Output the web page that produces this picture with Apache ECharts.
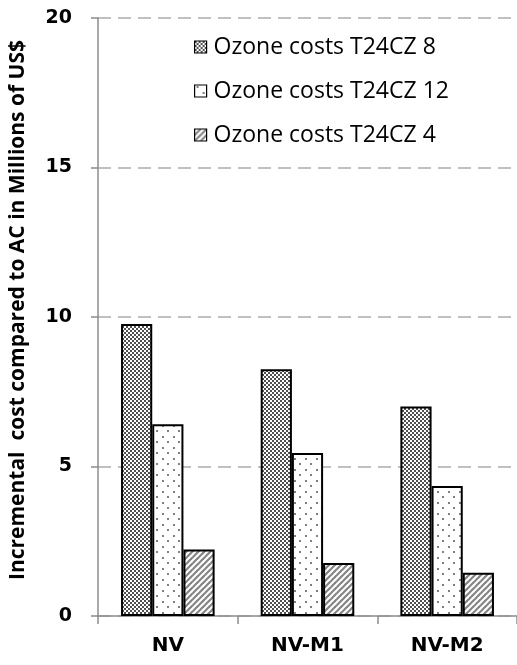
<!DOCTYPE html>
<html><head><meta charset="utf-8">
<script src="https://cdn.jsdelivr.net/npm/echarts@6/dist/echarts.min.js"></script>
<style>html,body{margin:0;padding:0;background:#fff}#c{width:517px;height:665px}</style>
</head><body><div id="c"></div>
<script>
const categories = ['NV', 'NV-M1', 'NV-M2'];
const seriesNames = ['Ozone costs T24CZ 8', 'Ozone costs T24CZ 12', 'Ozone costs T24CZ 4'];
const cz8 = [9.77, 8.25, 7.01];
const cz12 = [6.41, 5.45, 4.35];
const cz4 = [2.22, 1.77, 1.45];
const yTicks = [0, 5, 10, 15, 20];

function checker() {
  const c = document.createElement('canvas'); c.width = 4; c.height = 4;
  const g = c.getContext('2d');
  g.fillStyle = '#fff'; g.fillRect(0, 0, 4, 4);
  g.fillStyle = '#505050'; g.fillRect(0, 0, 2, 2); g.fillRect(2, 2, 2, 2);
  return c;
}
function dots() {
  const c = document.createElement('canvas'); c.width = 11; c.height = 11;
  const g = c.getContext('2d');
  g.fillStyle = '#fff'; g.fillRect(0, 0, 11, 11);
  g.fillStyle = '#808080'; g.fillRect(2, 1, 2, 2); g.fillRect(8, 7, 2, 2);
  return c;
}
function diag() {
  const n = 6;
  const c = document.createElement('canvas'); c.width = n; c.height = n;
  const g = c.getContext('2d');
  g.fillStyle = '#fff'; g.fillRect(0, 0, n, n);
  g.strokeStyle = '#858585'; g.lineWidth = 2.2;
  for (let k = -1; k <= 1; k++) {
    g.beginPath(); g.moveTo(k * n - 1, n + 1); g.lineTo(k * n + n + 1, -1); g.stroke();
  }
  return c;
}
const fills = [checker(), dots(), diag()].map(img => ({ image: img, repeat: 'repeat' }));
const data = [cz8, cz12, cz4];

const chart = echarts.init(document.getElementById('c'), null, { renderer: 'canvas' });
chart.setOption({
  animation: false,
  grid: { left: 97, right: -3, top: 18, bottom: 49, containLabel: false },
  legend: {
    orient: 'vertical', left: 194, top: 35, itemGap: 20, padding: 0,
    itemWidth: 12, itemHeight: 12, icon: 'rect',
    itemStyle: { borderColor: '#000', borderWidth: 1.2 },
    textStyle: { fontFamily: 'Open Sans', fontSize: 23, lineHeight: 24, color: '#000', padding: [0, 0, 0, 2] },
    data: seriesNames
  },
  xAxis: {
    type: 'category', data: categories,
    axisLine: { lineStyle: { color: '#8c8c8c', width: 1.5 } },
    axisTick: { show: true, length: 8, lineStyle: { color: '#8c8c8c', width: 1.5 } },
    axisLabel: { fontFamily: 'DejaVu Sans', fontWeight: 'bold', fontSize: 20, color: '#000', margin: 20 }
  },
  yAxis: {
    type: 'value', min: 0, max: 20, interval: 5,
    name: 'Incremental  cost compared to AC in Millions of US$',
    nameLocation: 'middle', nameGap: 69, nameRotate: 90,
    nameTextStyle: { fontFamily: 'Open Sans', fontWeight: 'bold', fontSize: 21, color: '#000', padding: [0, 0, 0, 14] },
    axisLine: { show: true, lineStyle: { color: '#8c8c8c', width: 1.5 } },
    axisTick: { show: true, inside: false, length: 7, lineStyle: { color: '#8c8c8c', width: 1.5 } },
    axisLabel: { fontFamily: 'DejaVu Sans', fontWeight: 'bold', fontSize: 19, color: '#000', margin: 26,
      formatter: v => yTicks.includes(v) ? String(v) : '' },
    splitLine: { show: true, lineStyle: { color: '#c0c0c0', width: 2, type: [13, 7] } }
  },
  series: seriesNames.map((n, i) => ({
    name: n, type: 'bar', data: data[i],
    barGap: '0%', barCategoryGap: '33%',
    itemStyle: { color: fills[i], borderColor: '#000', borderWidth: 2 }
  }))
});
</script></body></html>
